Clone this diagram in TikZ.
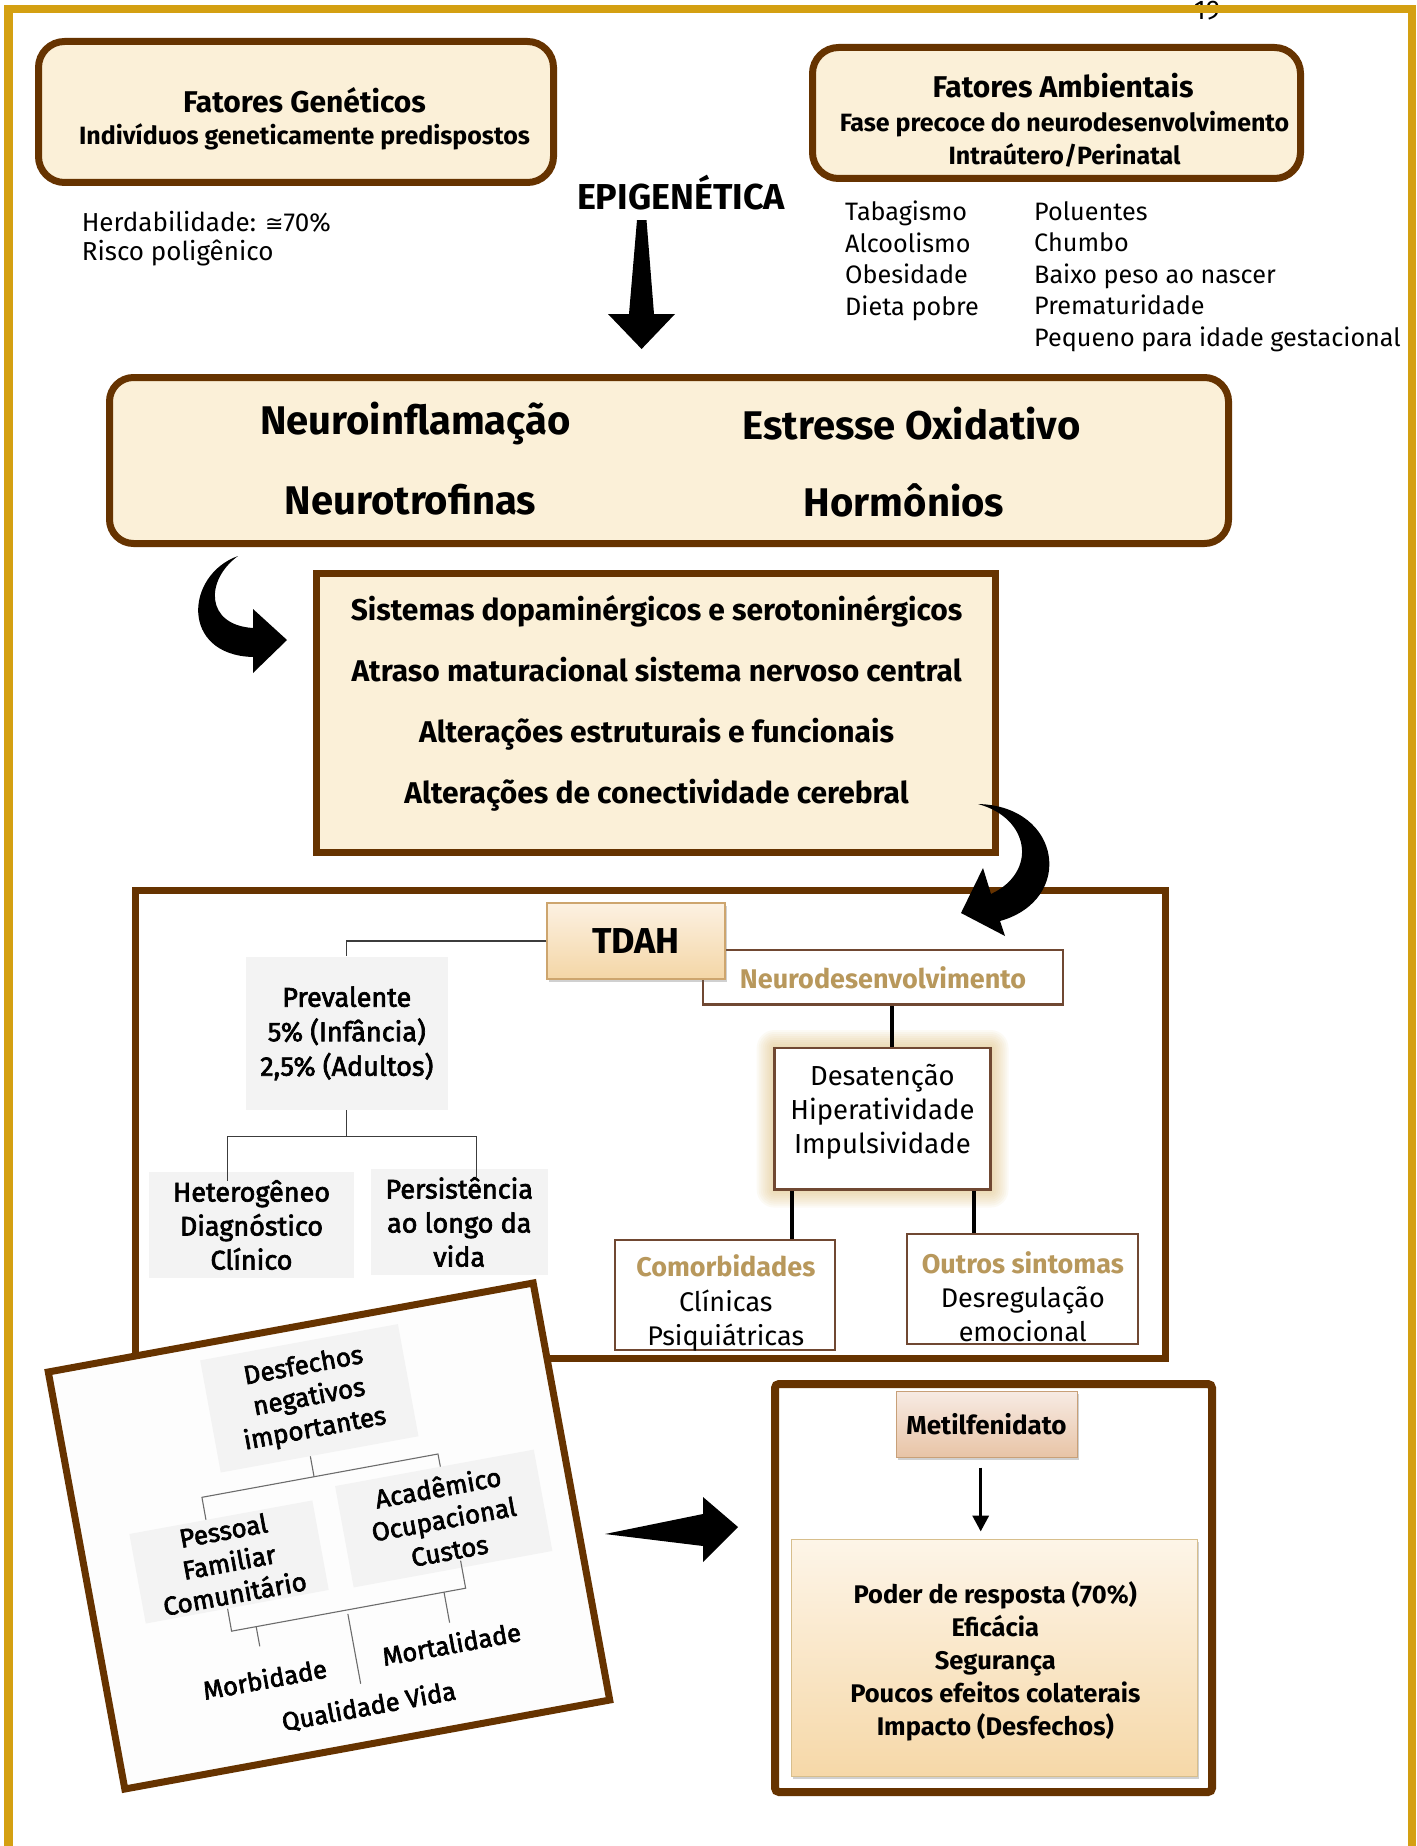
\documentclass[tikz,border=0pt]{standalone}
\usepackage{fontspec}
\setmainfont{Fira Sans}
\newfontfamily\semib[FakeBold=2.5]{Fira Sans}
\newfontfamily\djv{DejaVu Sans}
\usetikzlibrary{shadows,calc,arrows.meta}
\definecolor{goldf}{RGB}{212,160,18}
\definecolor{brn}{RGB}{102,51,0}
\definecolor{parch}{RGB}{251,240,216}
\definecolor{thinb}{RGB}{112,72,50}
\definecolor{goldt}{RGB}{184,152,92}
\definecolor{grayb}{RGB}{243,243,243}
\definecolor{glowc}{RGB}{222,186,110}
\definecolor{tdahT}{RGB}{252,241,226}
\definecolor{tdahB}{RGB}{244,214,166}
\definecolor{tdahD}{RGB}{205,165,110}
\definecolor{metT}{RGB}{247,235,228}
\definecolor{metB}{RGB}{232,196,166}
\definecolor{metD}{RGB}{200,160,120}
\definecolor{podT}{RGB}{253,245,232}
\definecolor{podB}{RGB}{246,216,168}
\definecolor{podD}{RGB}{215,190,140}
\definecolor{lineg}{RGB}{60,60,60}
\definecolor{rfill}{RGB}{253,253,253}
\newcommand{\fz}[2]{\fontsize{#1}{#2}\selectfont}
\begin{document}
\begin{tikzpicture}[x=1pt,y=-1pt,
  parchbox/.style={draw=brn, line width=7pt, fill=parch, rounded corners=26pt, inner sep=0pt},
  sqbox/.style={draw=brn, line width=7pt, fill=parch, inner sep=0pt},
  thinbox/.style={draw=thinb, line width=2.5pt, fill=white, inner sep=0pt},
  graybox/.style={fill=grayb, inner sep=0pt, align=center, font=\semib\fz{27}{34.5}},
  rgray/.style={fill=grayb, inner sep=0pt, align=center, font=\semib\fz{26}{32}},
  rtext/.style={inner sep=0pt, font=\semib\fz{25.5}{30}},
  tline/.style={draw=lineg, line width=1.3pt},
  rline/.style={draw=gray!85!black, line width=1.1pt},
  thickc/.style={draw=black, line width=4pt},
  tTitle/.style={font=\bfseries\fz{30}{36}, inner sep=0pt},
  tSub/.style={font=\bfseries\fz{25}{30}, inner sep=0pt},
  tBig/.style={font=\bfseries\fz{40}{46}, inner sep=0pt},
  tList/.style={font=\fz{25.2}{31.6}, inner sep=0pt, align=left, anchor=west},
  tCenter/.style={inner sep=0pt, align=center},
  shad/.style={drop shadow={shadow xshift=1.5pt, shadow yshift=-2.5pt, opacity=0.3, fill=black!60}},
]
\useasboundingbox (0,0) rectangle (1416,1846);
\fill[white] (0,0) rectangle (1416,1846);

% page number and gold frame
\node[anchor=base, font=\fz{27}{30}, inner sep=0pt] (pg) at (1207,20) {19};
\draw[goldf, line width=8.5pt] (8.5,9) rectangle (1412,1950);

% top boxes
\node[parchbox, minimum width=515pt, minimum height=141pt] (gen) at (296,112) {};
\node[tTitle] (gen-t1) at (304.5,100) {Fatores Genéticos};
\node[tSub] (gen-t2) at (304.5,136.5) {Indivíduos geneticamente predispostos};
\node[tList, font=\fz{26}{29.5}] (herd) at (81.6,238.4) {Herdabilidade: {\djv\fz{22}{29.5}≅}70\%\\Risco poligênico};

\node[parchbox, minimum width=488pt, minimum height=131pt] (amb) at (1056.5,113) {};
\node[tTitle] (amb-t1) at (1063,86) {Fatores Ambientais};
\node[tSub] (amb-t2) at (1064.5,124) {Fase precoce do neurodesenvolvimento};
\node[tSub] (amb-t3) at (1064.5,155.5) {Intraútero/Perinatal};
\node[tList] (amb-l1) at (845,261) {Tabagismo\\Alcoolismo\\Obesidade\\Dieta pobre};
\node[tList] (amb-l2) at (1034,276.5) {Poluentes\\Chumbo\\Baixo peso ao nascer\\Prematuridade\\Pequeno para idade gestacional};

\node[font=\bfseries\fz{36}{40}, inner sep=0pt] (epi) at (681,192.5) {EPIGENÉTICA};
\fill[black] (637,220) -- (646.5,220) -- (654,314) -- (675,314) -- (641.6,349) -- (608,314) -- (629,314) -- cycle;

% mechanisms box
\node[parchbox, rounded corners=24pt, minimum width=1119pt, minimum height=166pt] (mech) at (669,460.5) {};
\node[tBig] (m1) at (415.5,424) {Neuroinflamação};
\node[tBig] (m2) at (911.5,424) {Estresse Oxidativo};
\node[tBig] (m3) at (410.5,500) {Neurotrofinas};
\node[tBig] (m4) at (904,500) {Hormônios};

% systems box
\node[sqbox, minimum width=679pt, minimum height=279pt] (sist) at (656,713) {};
\node[tCenter, font=\bfseries\fz{30}{61}] (sist-t) at (656.6,703.5) {Sistemas dopaminérgicos e serotoninérgicos\\Atraso maturacional sistema nervoso central\\Alterações estruturais e funcionais\\Alterações de conectividade cerebral};

% TDAH frame
\node[draw=brn, line width=7pt, fill=white, inner sep=0pt, minimum width=1030pt, minimum height=468.5pt] (tframe) at (650.5,1124.25) {};

% crescent arrows
\fill[black] (238,556) .. controls (185,575) and (180,655) .. (253,657) -- (253,673) -- (287,640) -- (253,609) -- (253,628) .. controls (205,625) and (205,580) .. (238,556) -- cycle;
\fill[black] (978,804) .. controls (1062,806) and (1075,900) .. (1000,921) -- (1005,936) -- (961,913) -- (983,868) -- (991,894) .. controls (1038,872) and (1030,818) .. (978,804) -- cycle;

\node[thinbox, minimum width=360pt, minimum height=54.6pt, text=goldt, font=\bfseries\fz{27}{32}] (neuro) at (883,977.3) {Neurodesenvolvimento};
\node[draw=tdahD, line width=1.2pt, top color=tdahT, bottom color=tdahB, shad, inner sep=0pt, minimum width=178pt, minimum height=76pt, font=\bfseries\fz{36}{40}] (tdah) at (636,941) {TDAH};

\node[graybox, minimum width=202pt, minimum height=153.4pt] (prev) at (346.8,1033.3) {Prevalente\\5\% (Infância)\\2,5\% (Adultos)};
\node[graybox, minimum width=205pt, minimum height=106pt, font=\semib\fz{27}{34}] (het) at (251.5,1225) {Heterogêneo\\Diagnóstico\\Clínico};
\node[graybox, minimum width=176.5pt, minimum height=106pt, font=\semib\fz{27}{34}] (pers) at (459.25,1222) {Persistência\\ao longo da\\vida};

\draw[tline] (tdah.west) -| (prev.north);
\coordinate (psplit) at (346.8,1136.7);
\coordinate (hetA) at ([xshift=-23.8pt,yshift=-9pt]het.north);
\coordinate (persA) at ([xshift=17.35pt,yshift=-9.6pt]pers.north);
\draw[tline] (prev.south) -- (psplit);
\draw[tline] (hetA) |- (psplit) -| (persA);

% symptoms
\foreach \r in {2,4,...,18} {
  \fill[glowc, opacity=0.07, rounded corners=\r pt] ({774.7-\r},{1048-\r}) rectangle ({990.5+\r},{1189.6+\r});
}
\node[thinbox, minimum width=215.8pt, minimum height=141.6pt] (desat) at (882.6,1118.8) {};
\node[tCenter, font=\fz{27.5}{34}] (desat-t) at (882.4,1112) {Desatenção\\Hiperatividade\\Impulsividade};

\node[thinbox, minimum width=220pt, minimum height=110pt] (comorb) at (725,1295) {};
\node[tCenter, font=\fz{27}{34.5}] (comorb-t) at (725.8,1303) {\textcolor{goldt}{\bfseries Comorbidades}\\Clínicas\\Psiquiátricas};
\node[thinbox, minimum width=231pt, minimum height=110pt] (outros) at (1022.5,1289) {};
\node[tCenter, font=\fz{27}{34}] (outros-t) at (1022.8,1297) {\textcolor{goldt}{\bfseries Outros sintomas}\\Desregulação\\emocional};

\coordinate (nd) at ([xshift=9pt]neuro.south);
\draw[thickc] (nd) -- (nd |- desat.north);
\coordinate (dl) at ($(desat.south west)!0.085!(desat.south east)$);
\coordinate (dr) at ($(desat.south west)!0.917!(desat.south east)$);
\draw[thickc] (dl) -- (dl |- comorb.north);
\draw[thickc] (dr) -- (dr |- outros.north);

% rotated outcomes box
\begin{scope}[shift={(329,1536)}, rotate=10.4, transform shape]
  \node[draw=brn, line width=7pt, fill=rfill, inner sep=0pt, minimum width=493pt, minimum height=424pt] (outc) at (0,0) {};
  \node[rgray, minimum width=201pt, minimum height=114pt] (desf) at (5.5,-139) {Desfechos\\negativos\\importantes};
  \node[rgray, minimum width=186pt, minimum height=91pt] (pess) at (-103,7.5) {Pessoal\\Familiar\\Comunitário};
  \node[rgray, minimum width=202pt, minimum height=103pt] (acad) at (116,3.5) {Acadêmico\\Ocupacional\\Custos};
  \coordinate (bM) at (-4,-61);
  \coordinate (bL) at (-118,-61);
  \coordinate (bR) at (122,-61);
  \draw[rline] ($(desf.south west)!0.453!(desf.south east)$) -- (bM);
  \draw[rline] ($(pess.north west)!0.419!(pess.north east)$) -- (bL) -- (bR) -- ($(acad.north west)!0.53!(acad.north east)$);
  \coordinate (cL) at (-113,76);
  \coordinate (cR) at (125,76);
  \coordinate (cT) at (125,48);
  \draw[rline] ($(pess.south west)!0.447!(pess.south east)$) -- (cL) -- (cR) -- (cT);
  \coordinate (d1a) at (-88,76); \coordinate (d1b) at (-88,96);
  \coordinate (d2a) at (4.5,80); \coordinate (d2b) at (4.5,151);
  \coordinate (d3a) at (103,76); \coordinate (d3b) at (103,107);
  \draw[rline] (d1a) -- (d1b);
  \draw[rline] (d2a) -- (d2b);
  \draw[rline] (d3a) -- (d3b);
  \node[rtext] (morb) at (-89,129) {Morbidade};
  \node[rtext] (qual) at (8.4,175) {Qualidade Vida};
  \node[rtext] (mort) at (101,128) {Mortalidade};
\end{scope}

% arrow to treatment
\fill[black] (605,1534) -- (703,1514) -- (703,1497) -- (738,1527) -- (703,1562) -- (703,1546) -- cycle;

% treatment box
\node[draw=brn, line width=8pt, fill=white, rounded corners=4pt, inner sep=0pt, minimum width=437pt, minimum height=408pt] (treat) at (993.5,1588) {};
\node[draw=metD, line width=1pt, top color=metT, bottom color=metB, shad, inner sep=0pt, minimum width=181pt, minimum height=66pt, font=\bfseries\fz{26}{30}] (metil) at (986.5,1424) {Metilfenidato};
\node[draw=podD, line width=1pt, top color=podT, bottom color=podB, shad, inner sep=0pt, minimum width=406.5pt, minimum height=237pt] (poder) at (994.7,1657.5) {};
\node[tCenter, font=\bfseries\fz{25.5}{33}] (poder-t) at (995.3,1661) {Poder de resposta (70\%)\\Eficácia\\Segurança\\Poucos efeitos colaterais\\Impacto (Desfechos)};
\coordinate (ma) at ([xshift=-5.8pt,yshift=-10pt]metil.south);
\draw[line width=3.5pt, -{Triangle[length=16pt,width=16pt]}, shorten >=7pt] (ma) -- (ma |- poder.north);
\end{tikzpicture}
\end{document}
